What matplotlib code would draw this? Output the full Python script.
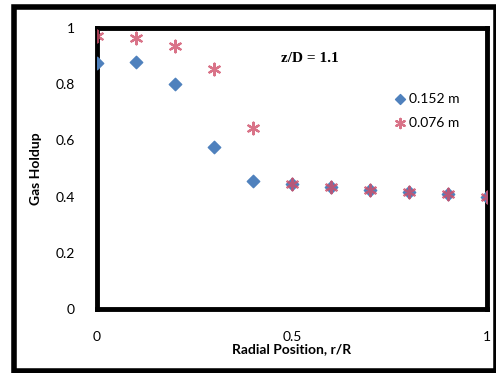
import matplotlib
matplotlib.use("Agg")
import matplotlib.pyplot as plt
from matplotlib.patches import Rectangle

plt.rcParams['font.family'] = ['Lato', 'DejaVu Sans']

# radial positions r/R
r_R = [0.0, 0.1, 0.2, 0.3, 0.4, 0.5, 0.6, 0.7, 0.8, 0.9, 1.0]
# gas holdup for column diameters
holdup_152 = [0.875, 0.88, 0.80, 0.577, 0.455, 0.445, 0.435, 0.425, 0.415, 0.41, 0.40]
holdup_076 = [0.97, 0.965, 0.935, 0.855, 0.645, 0.445, 0.435, 0.425, 0.415, 0.41, 0.40]
label_152 = "0.152 m"
label_076 = "0.076 m"
note = "z/D = 1.1"

fig = plt.figure(figsize=(4.96, 3.73), dpi=100)
ax = fig.add_axes([97/496, 1-309/373, 390/496, 281/373])

ax.scatter(r_R, holdup_152, marker='D', s=40, color='#4F81BD', label=label_152, zorder=3)
ax.scatter(r_R, holdup_076, marker=(6, 2, 0), s=70, color='#D0506A', linewidths=1.6,
           alpha=0.8, label=label_076, zorder=4)

ax.set_xlim(0, 1)
ax.set_ylim(0, 1)
ax.set_xticks([0, 0.5, 1])
ax.set_xticklabels(['0', '0.5', '1'])
ax.set_yticks([0, 0.2, 0.4, 0.6, 0.8, 1])
ax.set_yticklabels(['0', '0.2', '0.4', '0.6', '0.8', '1'])
ax.tick_params(axis='x', length=0, pad=16, labelsize=10)
ax.tick_params(axis='y', length=0, pad=16, labelsize=10)
for s in ax.spines.values():
    s.set_linewidth(3.5)
    s.set_color('black')

ax.set_xlabel("Radial Position, r/R", fontsize=10, fontweight='bold', labelpad=0)
ax.set_ylabel("Gas Holdup", fontsize=10, fontweight='bold', labelpad=10)

ax.text(0.546, 0.89, note, transform=ax.transAxes, ha='center', va='center',
        fontsize=11, fontweight='bold', family='Liberation Serif')

ax.legend(loc='upper right', bbox_to_anchor=(0.95, 0.80), frameon=False, fontsize=10,
          handletextpad=0.1, borderaxespad=0.2, labelspacing=0.9, handlelength=1.0,
          markerscale=0.8)

# outer border
fig.patches.append(Rectangle((14/496, 2/373), 1 - 14/496, 1 - 9/373, transform=fig.transFigure,
                             fill=False, edgecolor='black', linewidth=4))

fig.savefig("out.png", dpi=100)
